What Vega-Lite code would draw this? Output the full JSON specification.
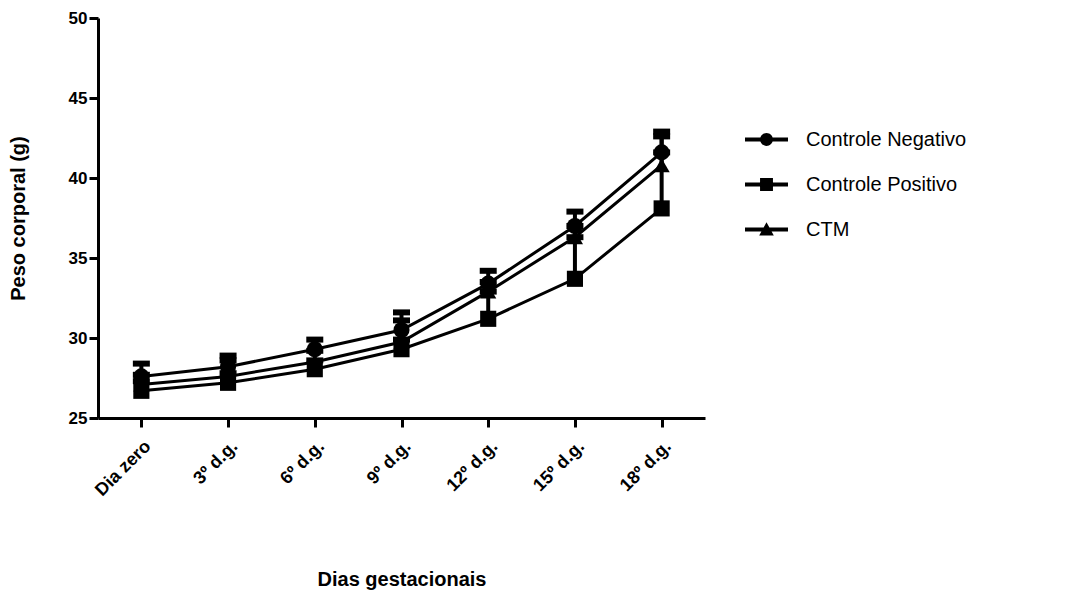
{
  "$schema": "https://vega.github.io/schema/vega-lite/v6.json",
  "autosize": {"type": "none"},
  "padding": {"left": 98, "top": 18, "right": 367, "bottom": 178},
  "width": 607,
  "height": 400,
  "background": "white",
  "config": {
    "view": {"stroke": null},
    "font": "Liberation Sans",
    "axis": {
      "grid": false,
      "domainColor": "black",
      "domainWidth": 3,
      "tickColor": "black",
      "tickWidth": 3,
      "tickSize": 9,
      "labelColor": "black",
      "labelFont": "Liberation Sans",
      "labelFontWeight": "bold",
      "labelFontSize": 17,
      "titleColor": "black",
      "titleFont": "Liberation Sans",
      "titleFontWeight": "bold",
      "titleFontSize": 20
    }
  },
  "data": {
    "values": [
      {"day": "Dia zero", "series": "Controle Negativo", "mean": 27.6, "upper": 28.4},
      {"day": "3º d.g.", "series": "Controle Negativo", "mean": 28.2, "upper": 28.9},
      {"day": "6º d.g.", "series": "Controle Negativo", "mean": 29.3, "upper": 29.9},
      {"day": "9º d.g.", "series": "Controle Negativo", "mean": 30.5, "upper": 31.6},
      {"day": "12º d.g.", "series": "Controle Negativo", "mean": 33.4, "upper": 34.2},
      {"day": "15º d.g.", "series": "Controle Negativo", "mean": 37.0, "upper": 37.9},
      {"day": "18º d.g.", "series": "Controle Negativo", "mean": 41.6, "upper": 42.6},
      {"day": "Dia zero", "series": "Controle Positivo", "mean": 26.7, "upper": 27.3},
      {"day": "3º d.g.", "series": "Controle Positivo", "mean": 27.2, "upper": 27.8},
      {"day": "6º d.g.", "series": "Controle Positivo", "mean": 28.05, "upper": 28.6},
      {"day": "9º d.g.", "series": "Controle Positivo", "mean": 29.3, "upper": 29.9},
      {"day": "12º d.g.", "series": "Controle Positivo", "mean": 31.2, "upper": 32.9},
      {"day": "15º d.g.", "series": "Controle Positivo", "mean": 33.7, "upper": 36.3},
      {"day": "18º d.g.", "series": "Controle Positivo", "mean": 38.1, "upper": 42.9},
      {"day": "Dia zero", "series": "CTM", "mean": 27.1, "upper": 27.7},
      {"day": "3º d.g.", "series": "CTM", "mean": 27.6, "upper": 28.6},
      {"day": "6º d.g.", "series": "CTM", "mean": 28.5, "upper": 29.2},
      {"day": "9º d.g.", "series": "CTM", "mean": 29.75, "upper": 31.1},
      {"day": "12º d.g.", "series": "CTM", "mean": 32.9, "upper": 33.5},
      {"day": "15º d.g.", "series": "CTM", "mean": 36.3, "upper": 37.0},
      {"day": "18º d.g.", "series": "CTM", "mean": 40.8, "upper": 41.6}
    ]
  },
  "encoding": {
    "x": {
      "field": "day",
      "type": "ordinal",
      "sort": ["Dia zero", "3º d.g.", "6º d.g.", "9º d.g.", "12º d.g.", "15º d.g.", "18º d.g."],
      "scale": {"type": "point", "padding": 0.5},
      "axis": {"title": "Dias gestacionais", "labelAngle": -45, "labelPadding": 10, "labelFontSize": 18, "titlePadding": 70}
    }
  },
  "layer": [
    {
      "mark": {"type": "rule", "color": "black", "strokeWidth": 4},
      "encoding": {
        "y": {
          "field": "mean",
          "type": "quantitative",
          "scale": {"domain": [25, 50], "nice": false, "zero": false},
          "axis": {"title": "Peso corporal (g)", "values": [25, 30, 35, 40, 45, 50], "titlePadding": 40}
        },
        "y2": {"field": "upper"},
        "detail": {"field": "series"}
      }
    },
    {
      "mark": {"type": "tick", "color": "black", "opacity": 1, "thickness": 6, "size": 17, "orient": "horizontal"},
      "encoding": {
        "y": {"field": "upper", "type": "quantitative"},
        "detail": {"field": "series"}
      }
    },
    {
      "mark": {"type": "line", "color": "black", "strokeWidth": 3},
      "encoding": {
        "y": {"field": "mean", "type": "quantitative"},
        "detail": {"field": "series"}
      }
    },
    {
      "mark": {"type": "point", "filled": true, "color": "black", "opacity": 1, "size": 260},
      "encoding": {
        "y": {"field": "mean", "type": "quantitative"},
        "shape": {
          "field": "series",
          "type": "nominal",
          "scale": {"domain": ["Controle Negativo", "Controle Positivo", "CTM"], "range": ["circle", "square", "triangle-up"]},
          "legend": null
        }
      }
    },
    {
      "mark": {"type": "point", "filled": true, "color": "black", "size": 0},
      "encoding": {
        "y": {"field": "mean", "type": "quantitative"},
        "shape": {
          "field": "series",
          "type": "nominal",
          "scale": {
            "domain": ["Controle Negativo", "Controle Positivo", "CTM"],
            "range": [
              "M-1,-0.09H1V0.09H-1Z M-0.3,0A0.3,0.3 0 1,1 0.3,0A0.3,0.3 0 1,1 -0.3,0Z",
              "M-1,-0.09H1V0.09H-1Z M-0.3,-0.3H0.3V0.3H-0.3Z",
              "M-1,-0.09H1V0.09H-1Z M0,-0.34L0.34,0.28H-0.34Z"
            ]
          },
          "legend": {
            "title": null,
            "orient": "none",
            "legendX": 647,
            "legendY": 100,
            "symbolSize": 1849,
            "symbolFillColor": "black",
            "symbolStrokeColor": "black",
            "symbolStrokeWidth": 0,
            "symbolOpacity": 1,
            "rowPadding": 13,
            "labelOffset": 18,
            "labelFont": "Liberation Sans",
            "labelFontSize": 20,
            "labelColor": "black",
            "labelLimit": 400
          }
        }
      }
    }
  ],
  "resolve": {"scale": {"shape": "independent"}, "legend": {"shape": "independent"}}
}
